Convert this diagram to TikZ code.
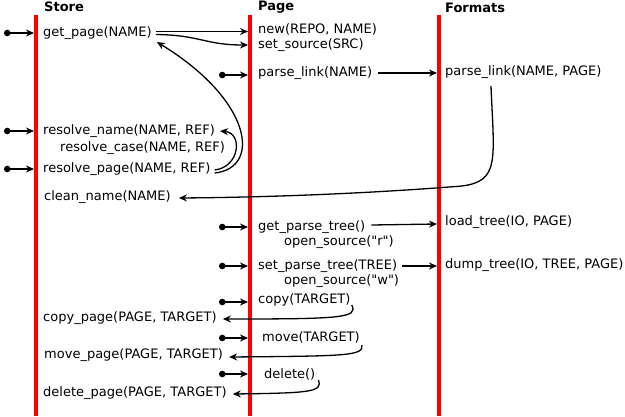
\documentclass[tikz,border=0pt]{standalone}
\usepackage{fontspec}
\setmainfont{DejaVu Sans}[Ligatures=TeXOff]
\usetikzlibrary{arrows.meta}
\begin{document}
\begin{tikzpicture}[x=1pt,y=-1pt,
  lbl/.style={anchor=west,inner sep=0pt,font=\fontsize{13}{15}\selectfont},
  hdr/.style={anchor=west,inner sep=0pt,font=\fontsize{13}{15}\selectfont\bfseries},
  lane/.style={red,line width=4pt},
  conn/.style={black,line width=1.3pt,-{Stealth[length=8pt,width=7pt]}},
  dotc/.style={black,line width=1.3pt,{Circle[length=6.5pt]}-{Stealth[length=8pt,width=7pt]}}]
\useasboundingbox (0,0) rectangle (625,416);
% lanes
\coordinate (s0) at (36,15); \coordinate (s1) at (36,416);
\coordinate (p0) at (250,15); \coordinate (p1) at (250,416);
\coordinate (f0) at (439,15); \coordinate (f1) at (439,416);
\draw[lane] (s0) -- (s1);
\draw[lane] (p0) -- (p1);
\draw[lane] (f0) -- (f1);
% headers
\node[hdr] (hs) at (44,7) {Store};
\node[hdr] (hp) at (258,7) {Page};
\node[hdr] (hf) at (445,8) {Formats};
% labels
\node[lbl] (getpage) at (43,33) {get\_page(NAME)};
\node[lbl] (new) at (258,29) {new(REPO, NAME)};
\node[lbl] (setsource) at (258,45) {set\_source(SRC)};
\node[lbl] (parselink) at (258,73) {parse\_link(NAME)};
\node[lbl] (fparselink) at (445,72) {parse\_link(NAME, PAGE)};
\node[lbl] (resname) at (43,131) {resolve\_name(NAME, REF)};
\node[lbl] (rescase) at (60,148) {resolve\_case(NAME, REF)};
\node[lbl] (respage) at (43,169) {resolve\_page(NAME, REF)};
\node[lbl] (cleanname) at (44,197) {clean\_name(NAME)};
\node[lbl] (getpt) at (258,227) {get\_parse\_tree()};
\node[lbl] (opensr) at (284,242) {open\_source("r")};
\node[lbl] (loadtree) at (445,222) {load\_tree(IO, PAGE)};
\node[lbl] (setpt) at (258,266) {set\_parse\_tree(TREE)};
\node[lbl] (opensw) at (284,281) {open\_source("w")};
\node[lbl] (dumptree) at (445,265) {dump\_tree(IO, TREE, PAGE)};
\node[lbl] (copy) at (258,300) {copy(TARGET)};
\node[lbl] (copypage) at (43,318) {copy\_page(PAGE, TARGET)};
\node[lbl] (move) at (262,337) {move(TARGET)};
\node[lbl] (movepage) at (44,355) {move\_page(PAGE, TARGET)};
\node[lbl] (delete) at (264,374) {delete()};
\node[lbl] (deletepage) at (43,393) {delete\_page(PAGE, TARGET)};
% entry points
\coordinate (e1) at (4,33); \coordinate (e1t) at (34,33);
\coordinate (e2) at (4,131); \coordinate (e2t) at (34,131);
\coordinate (e3) at (4,169); \coordinate (e3t) at (34,169);
\coordinate (e4) at (219,75); \coordinate (e4t) at (248,75);
\coordinate (e5) at (219,227); \coordinate (e5t) at (248,227);
\coordinate (e6) at (219,266); \coordinate (e6t) at (248,266);
\coordinate (e7) at (219,302); \coordinate (e7t) at (248,302);
\coordinate (e8) at (219,338); \coordinate (e8t) at (248,338);
\coordinate (e9) at (219,374); \coordinate (e9t) at (248,374);
\foreach \a/\b in {e1/e1t,e2/e2t,e3/e3t,e4/e4t,e5/e5t,e6/e6t,e7/e7t,e8/e8t,e9/e9t}
  \draw[dotc] (\a) -- (\b);
% targets on lanes
\coordinate (tnew) at (248,31.5);
\coordinate (tsrc) at (248,45);
\coordinate (tfpl) at (437,73);
\coordinate (tload) at (437,224);
\coordinate (tdump) at (437,266);
\coordinate (srcpl) at (491,86);
% get_page -> new, set_source
\draw[conn] ([xshift=4pt,yshift=1.5pt]getpage.east) -- (tnew);
\draw[conn] ([xshift=4pt,yshift=-1.5pt]getpage.east) .. controls (200,35) and (205,45) .. (tsrc);
% parse_link -> formats parse_link
\draw[conn] ([xshift=6pt]parselink.east) -- (tfpl);
% resolve_page -> resolve_name
\draw[conn] ([xshift=4pt,yshift=-1pt]respage.east) .. controls (240,167) and (243,133) .. ([xshift=5pt]resname.east);
% resolve_page -> get_page
\draw[conn] ([xshift=4pt,yshift=-4pt]respage.east) .. controls (262,168) and (252,100) .. ([xshift=5pt,yshift=-9pt]getpage.east);
% formats parse_link -> clean_name
\draw[conn] (srcpl) .. controls (494,160) and (500,181) .. (462,186) .. controls (400,191) and (300,197) .. ([xshift=8pt,yshift=-1pt]cleanname.east);
% load/dump tree
\draw[conn] ([xshift=6pt,yshift=2pt]getpt.east) -- (tload);
\draw[conn] ([xshift=5pt]setpt.east) -- (tdump);
% copy / move / delete
\draw[conn] ([xshift=1pt,yshift=-5pt]copy.east) .. controls (359,318) and (340,319) .. ([xshift=6pt,yshift=-1pt]copypage.east);
\draw[conn] ([xshift=2pt,yshift=-8pt]move.east) .. controls (364,356) and (345,356) .. ([xshift=6pt,yshift=-2pt]movepage.east);
\draw[conn] ([xshift=3pt,yshift=-6pt]delete.east) .. controls (323,392) and (310,393) .. ([xshift=6pt,yshift=-1pt]deletepage.east);
\end{tikzpicture}
\end{document}
